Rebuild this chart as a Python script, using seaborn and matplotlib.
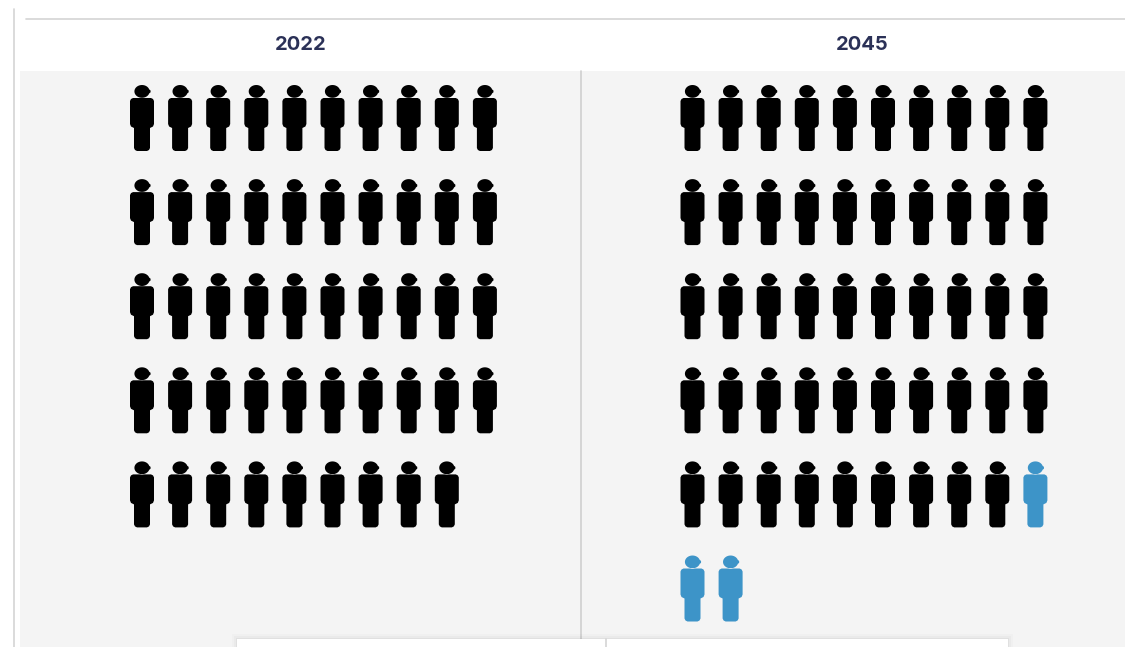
# ==========================================
# PEOPLE PICTOGRAM - 2022 VS 2045
# ==========================================

import numpy as np
import pandas as pd
import matplotlib.pyplot as plt
import seaborn as sns
from matplotlib.path import Path
from matplotlib.patches import Rectangle
from matplotlib.lines import Line2D

# ==========================================
# DATA
# ==========================================

years = ["2022", "2045"]
black_people = [49, 49]
blue_people = [0, 3]
people_per_row = 10

# ==========================================
# STYLE
# ==========================================

WIDTH, HEIGHT = 1125, 647
PANEL = "#f4f4f4"
LINE = "#d4d4d4"
TITLE = "#2b3157"
palette = {"black": "#000000", "blue": "#3d94c8"}

sns.set_theme(style="white")
plt.rcParams["font.family"] = ["Inter", "DejaVu Sans"]


def box(left, top, right, bottom):
    # pixel box (from top left) to figure fractions
    return [left / WIDTH, 1 - bottom / HEIGHT, (right - left) / WIDTH, (bottom - top) / HEIGHT]


# ==========================================
# PERSON ICON
# ==========================================

def person_icon():
    # units are pixels of the reference, centred on the icon
    theta = np.linspace(-np.pi, np.pi, 41)
    radius = np.where(np.abs(theta) < 0.25, 8.6, 7.6)
    head = np.column_stack([radius * np.cos(theta), 26.6 + 6.4 * np.sin(theta)])
    body = np.array([
        [-9, 20], [9, 20], [11, 19], [12, 17], [12, -6], [11, -8.5],
        [8, -10], [8, -30], [7, -32], [5, -33], [-5, -33], [-7, -32],
        [-8, -30], [-8, -10], [-11, -8.5], [-12, -6], [-12, 17], [-11, 19],
        [-9, 20],
    ])
    parts = [Path(head, closed=True), Path(body, closed=True)]
    return Path.make_compound_path(*parts)


icon = person_icon()

# ==========================================
# FIGURE
# ==========================================

fig = plt.figure(figsize=(WIDTH / 100, HEIGHT / 100), dpi=100, facecolor="white")

panel_boxes = [(20, 71, 581, 647), (581, 71, 1125, 647)]
first_col_px = [142, 692.5]
col_step = 38.1
row_step = 94.1
first_row_px = 118

for i, year in enumerate(years):
    total = black_people[i] + blue_people[i]
    rows, cols = np.divmod(np.arange(total), people_per_row)
    df = pd.DataFrame({
        "col": cols,
        "row": rows,
        "group": ["black"] * black_people[i] + ["blue"] * blue_people[i],
    })

    left, top, right, bottom = panel_boxes[i]
    ax = fig.add_axes(box(left, top, right, bottom), facecolor=PANEL)

    sns.scatterplot(
        data=df,
        x="col",
        y="row",
        hue="group",
        palette=palette,
        marker=icon,
        s=(66 * 0.72) ** 2,
        linewidth=0,
        legend=False,
        ax=ax,
    )

    xmin = (left - first_col_px[i]) / col_step
    ax.set_xlim(xmin, xmin + (right - left) / col_step)
    ax.set_ylim((bottom - first_row_px) / row_step, (top - first_row_px) / row_step)
    ax.set_axis_off()
    ax.add_patch(Rectangle((0, 0), 1, 1, transform=ax.transAxes, color=PANEL, zorder=0))

# ==========================================
# TITLES AND RULES
# ==========================================

title_x = [301, 862]
for year, x in zip(years, title_x):
    fig.text(
        x / WIDTH, 1 - 45 / HEIGHT, year,
        ha="center", va="center",
        fontsize=14.5, fontweight="bold", color=TITLE,
    )


def rule(x0, y0, x1, y1, color=LINE, width=1.2):
    fig.add_artist(Line2D(
        [x0 / WIDTH, x1 / WIDTH], [1 - y0 / HEIGHT, 1 - y1 / HEIGHT],
        transform=fig.transFigure, color=color, linewidth=width, zorder=5,
    ))


rule(26, 19, WIDTH, 19)
rule(14, 9, 14, HEIGHT)
rule(581, 71, 581, 640, color="#cfcfcf")

# ==========================================
# CARD AT THE BOTTOM
# ==========================================

for grow, alpha in zip([5, 3, 1.5], [0.015, 0.025, 0.04]):
    fig.add_artist(Rectangle(
        ((237 - grow) / WIDTH, 0), (771 + 2 * grow) / WIDTH, (8 + grow) / HEIGHT,
        transform=fig.transFigure, color="black", alpha=alpha, linewidth=0, zorder=6,
    ))

fig.add_artist(Rectangle(
    (237 / WIDTH, 0), 771 / WIDTH, 8 / HEIGHT,
    transform=fig.transFigure, color="white", linewidth=0, zorder=7,
))
fig.add_artist(Line2D(
    [606 / WIDTH, 606 / WIDTH], [0, 8 / HEIGHT],
    transform=fig.transFigure, color=LINE, linewidth=1.2, zorder=8,
))

fig.savefig("out.png", dpi=100)
plt.close(fig)
